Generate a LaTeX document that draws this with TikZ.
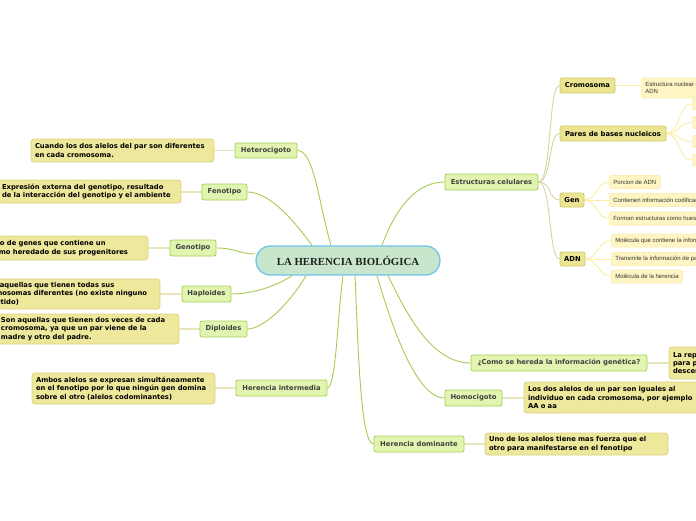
\documentclass[tikz,border=0pt]{standalone}
\usepackage{fontspec}
\setmainfont{DejaVu Sans}
\newfontfamily\cfont{Liberation Serif}
\newfontfamily\lfont{Liberation Sans}
\usetikzlibrary{backgrounds,calc}
\definecolor{cfill}{HTML}{C7E6CB}
\definecolor{cborder}{HTML}{6FC5EC}
\definecolor{lafill}{HTML}{E2F5B0}
\definecolor{laborder}{HTML}{A5CF55}
\definecolor{latext}{HTML}{404040}
\definecolor{dfill}{HTML}{EEE89C}
\definecolor{dborder}{HTML}{DCD483}
\definecolor{lbfill}{HTML}{EBE492}
\definecolor{lbborder}{HTML}{D3CA6B}
\definecolor{lffill}{HTML}{FFF5C4}
\definecolor{lfborder}{HTML}{FBEEB4}
\definecolor{conA}{HTML}{A6CC52}
\definecolor{conB}{HTML}{DAD5A0}
\definecolor{conC}{HTML}{FCEFA3}
\definecolor{conD}{HTML}{E8E5BC}
\begin{document}
\begin{tikzpicture}[x=1pt,y=-1pt,
  central/.style={draw=cborder, fill=cfill, line width=1.3pt, rounded corners=14.5pt,
    minimum width=184pt, minimum height=29pt, inner sep=0pt,
    font=\cfont\bfseries\fontsize{10.8}{12}\selectfont, text=black!88},
  lvla/.style={draw=laborder, fill=lafill, line width=0.8pt, rounded corners=2pt,
    inner sep=0pt, minimum height=16pt,
    font=\bfseries\fontsize{6.8}{8.3}\selectfont, text=latext},
  lvlb/.style={draw=lbborder, fill=lbfill, line width=0.8pt, rounded corners=2pt,
    inner sep=0pt, minimum height=15pt,
    font=\bfseries\fontsize{6.8}{8.3}\selectfont, text=black},
  desc/.style={draw=dborder, fill=dfill, line width=0.8pt, rounded corners=3pt,
    inner xsep=4pt, inner ysep=0pt, align=left,
    font=\bfseries\fontsize{6.8}{8.3}\selectfont, text=black},
  leaf/.style={draw=lfborder, fill=lffill, line width=0.6pt, rounded corners=2pt,
    inner xsep=4pt, inner ysep=0pt, minimum height=13pt, anchor=west, align=left,
    font=\lfont\fontsize{6}{6.8}\selectfont, text=black!80},
  cona/.style={draw=conA, line width=0.9pt},
  conb/.style={draw=conB, line width=0.9pt},
  conc/.style={draw=conC, line width=0.9pt},
  cond/.style={draw=conD, line width=1.6pt}]
\useasboundingbox (0,0) rectangle (696,520);

% central
\node[central] (c) at (348,260.5) {LA HERENCIA BIOLÓGICA};

% level 1
\node[lvla, minimum width=62pt, minimum height=15pt] (het) at (266,150.5) {Heterocigoto};
\node[lvla, minimum width=45pt] (fen) at (224.5,192) {Fenotipo};
\node[lvla, minimum width=46pt] (geno) at (193,248) {Genotipo};
\node[lvla, minimum width=49pt] (hap) at (206.5,294) {Haploides};
\node[lvla, minimum width=47pt] (dip) at (223.5,329) {Diploides};
\node[lvla, minimum width=91pt] (hint) at (281.5,388) {Herencia intermedia};
\node[lvla, minimum width=93pt] (est) at (491.5,182) {Estructuras celulares};
\node[lvla, minimum width=176pt] (como) at (559,363) {¿Como se hereda la información genética?};
\node[lvla, minimum width=57pt] (hom) at (473.5,398) {Homocigoto};
\node[lvla, minimum width=90pt] (hdom) at (419,444) {Herencia dominante};

% descriptions
\node[desc, text width=175pt, minimum height=23pt] (dhet) at (122.5,150.5)
  {Cuando los dos alelos del par son diferentes\\en cada cromosoma.};
\node[desc, text width=175pt, minimum height=23pt] (dfen) at (89.5,191.5)
  {Expresión externa del genotipo, resultado\\de la interacción del genotipo y el ambiente};
\node[desc, text width=173.8pt, minimum height=24pt] (dgen) at (57.1,248)
  {Conjunto de genes que contiene un\\organismo heredado de sus progenitores};
\node[desc, text width=172.8pt, minimum height=30pt] (dhap) at (69.6,294)
  {Son aquellas que tienen todas sus\\cromosomas diferentes (no existe ninguno\\repetido)};
\node[desc, text width=174pt, minimum height=30pt] (ddip) at (88,329)
  {Son aquellas que tienen dos veces de cada\\cromosoma, ya que un par viene de la\\madre y otro del padre.};
\node[desc, text width=175pt, minimum height=31pt] (dhint) at (123.5,388.5)
  {Ambos alelos se expresan simultáneamente\\en el fenotipo por lo que ningún gen domina\\sobre el otro (alelos codominantes)};
\node[desc, text width=172pt, minimum height=32pt] (dcomo) at (759,363)
  {La reproducción sexual es\\para pasar los genes a la\\descendencia};
\node[desc, text width=182pt, minimum height=31pt] (dhom) at (619,397.5)
  {Los dos alelos de un par son iguales al\\individuo en cada cromosoma, por ejemplo\\AA o aa};
\node[desc, text width=175pt, minimum height=22pt] (dhdom) at (576.5,444)
  {Uno de los alelos tiene mas fuerza que el\\otro para manifestarse en el fenotipo};

% level 2
\node[lvlb, minimum width=55pt] (crom) at (587.5,85.5) {Cromosoma};
\node[lvlb, minimum width=106pt] (pares) at (613,133.5) {Pares de bases nucleicos};
\node[lvlb, minimum width=24pt, minimum height=14pt] (gen) at (572,200) {Gen};
\node[lvlb, minimum width=25pt, minimum height=14pt] (adn) at (572.5,259) {ADN};

% leaves
\node[leaf, minimum height=20pt] (lcrom) at (641,88) {Estructura nuclear que contiene el\\ADN};
\node[leaf, minimum width=30pt, minimum height=12pt] (lp1) at (692,104) {};
\node[leaf, minimum width=30pt, minimum height=12pt] (lp2) at (692,122.5) {};
\node[leaf, minimum width=30pt, minimum height=12pt] (lp3) at (692,141.5) {};
\node[leaf, minimum width=30pt, minimum height=12pt] (lp4) at (692,160) {};
\node[leaf] (lg1) at (609,182) {Porcion de ADN};
\node[leaf] (lg2) at (609,200) {Contienen información codificada};
\node[leaf] (lg3) at (609,218.5) {Forman estructuras como huesos};
\node[leaf] (la1) at (611,240.5) {Molécula que contiene la información genética};
\node[leaf] (la2) at (611,259) {Transmite la información de padres a hijos};
\node[leaf] (la3) at (611,276.5) {Molécula de la herencia};

\begin{pgfonlayer}{background}
\fill[white] (0,0) rectangle (696,520);
% central to level 1
\draw[cona] (het.east) .. controls (314,150.5) and (318,200) .. ([xshift=-17pt]c.north);
\draw[cona] (fen.east) .. controls (270,192) and (295,222) .. ([xshift=-36pt]c.north);
\draw[cona] (geno.east) .. controls (235,248) and (240,254) .. ([yshift=6.5pt]c.west);
\draw[cona] (hap.east) .. controls (255,294) and (280,284) .. ([xshift=-56pt]c.south);
\draw[cona] (dip.east) .. controls (265,329) and (292,300) .. ([xshift=-42pt]c.south);
\draw[cona] (hint.east) .. controls (336,388) and (338,310) .. ([xshift=-5pt]c.south);
\draw[cona] ([xshift=7pt]c.south) .. controls (358,340) and (360,444) .. (hdom.west);
\draw[cona] ([xshift=29pt]c.south) .. controls (390,320) and (415,398) .. (hom.west);
\draw[cona] ([xshift=40pt]c.south) .. controls (405,310) and (430,363) .. (como.west);
\draw[cona] ([xshift=34pt]c.north) .. controls (395,210) and (415,182) .. (est.west);
% level 1 to descriptions
\draw[cond] (het.west) -- (dhet.east |- het.west);
\draw[cond] (fen.west) -- (dfen.east |- fen.west);
\draw[cond] (geno.west) -- (dgen.east |- geno.west);
\draw[cond] (hap.west) -- (dhap.east |- hap.west);
\draw[cond] (dip.west) -- (ddip.east |- dip.west);
\draw[cond] (hint.west) -- (dhint.east |- hint.west);
\draw[cond] (como.east) -- (dcomo.west |- como.east);
\draw[cond] (hom.east) -- (dhom.west |- hom.east);
\draw[cond] (hdom.east) -- (dhdom.west |- hdom.east);
% estructuras to level 2
\draw[conb] (est.east) .. controls (552,182) and (548,85.5) .. (crom.west);
\draw[conb] (est.east) .. controls (552,182) and (548,133.5) .. (pares.west);
\draw[conb] (est.east) .. controls (552,182) and (548,200) .. (gen.west);
\draw[conb] (est.east) .. controls (552,182) and (548,259) .. (adn.west);
% level 2 to leaves
\draw[conc] (crom.east) -- (lcrom.west |- crom.east);
\draw[conc] (pares.east) .. controls (680,133.5) and (678,104) .. (lp1.west);
\draw[conc] (pares.east) .. controls (680,133.5) and (678,122.5) .. (lp2.west);
\draw[conc] (pares.east) .. controls (680,133.5) and (678,141.5) .. (lp3.west);
\draw[conc] (pares.east) .. controls (680,133.5) and (678,160) .. (lp4.west);
\draw[conc] (gen.east) .. controls (597,200) and (596,182) .. (lg1.west);
\draw[conc] (gen.east) -- (lg2.west);
\draw[conc] (gen.east) .. controls (597,200) and (596,218.5) .. (lg3.west);
\draw[conc] (adn.east) .. controls (598,259) and (598,240.5) .. (la1.west);
\draw[conc] (adn.east) -- (la2.west);
\draw[conc] (adn.east) .. controls (598,259) and (598,276.5) .. (la3.west);
\end{pgfonlayer}
\end{tikzpicture}
\end{document}
